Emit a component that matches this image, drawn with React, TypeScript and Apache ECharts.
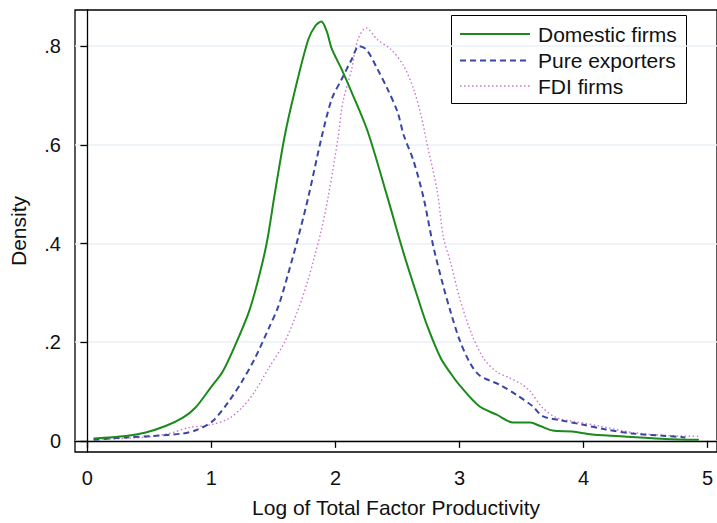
import React, { useEffect, useRef } from "react";
import * as echarts from "echarts";

const seriesNames = ["Domestic firms", "Pure exporters", "FDI firms"];
const xTicks = [0, 1, 2, 3, 4, 5];
const yTicks = [0, 0.2, 0.4, 0.6, 0.8];
const xTitle = "Log of Total Factor Productivity";
const yTitle = "Density";

const domestic: number[][] = [
  [0.05, 0.005], [0.31, 0.01], [0.47, 0.017], [0.63, 0.03], [0.77, 0.047], [0.87, 0.067],
  [1.0, 0.11], [1.09, 0.14], [1.19, 0.193], [1.3, 0.26], [1.37, 0.32], [1.445, 0.4],
  [1.51, 0.5], [1.59, 0.617], [1.67, 0.707], [1.78, 0.813], [1.84, 0.842], [1.886, 0.85],
  [1.93, 0.83], [1.97, 0.795], [2.05, 0.753], [2.13, 0.707], [2.26, 0.627], [2.42, 0.493],
  [2.55, 0.38], [2.66, 0.293], [2.74, 0.233], [2.85, 0.167], [2.94, 0.133], [3.0, 0.113],
  [3.16, 0.07], [3.3, 0.053], [3.43, 0.037], [3.57, 0.037], [3.65, 0.03], [3.75, 0.021],
  [3.91, 0.019], [4.07, 0.013], [4.39, 0.008], [4.66, 0.004], [4.93, 0.002],
];

const pureExporters: number[][] = [
  [0.05, 0.002], [0.31, 0.007], [0.53, 0.01], [0.77, 0.015], [0.88, 0.022], [1.01, 0.04],
  [1.14, 0.08], [1.245, 0.12], [1.35, 0.167], [1.46, 0.227], [1.54, 0.273], [1.62, 0.34],
  [1.7, 0.413], [1.78, 0.493], [1.886, 0.613], [1.97, 0.693], [2.05, 0.733], [2.13, 0.773],
  [2.19, 0.8], [2.25, 0.793], [2.34, 0.753], [2.42, 0.713], [2.5, 0.667], [2.55, 0.62],
  [2.63, 0.567], [2.71, 0.493], [2.79, 0.393], [2.87, 0.313], [2.93, 0.26], [3.0, 0.205],
  [3.08, 0.16], [3.16, 0.133], [3.33, 0.113], [3.46, 0.093], [3.59, 0.07], [3.67, 0.05],
  [3.81, 0.042], [3.99, 0.033], [4.18, 0.023], [4.39, 0.015], [4.66, 0.01], [4.82, 0.007],
];

const fdiFirms: number[][] = [
  [0.05, 0.003], [0.45, 0.007], [0.66, 0.015], [0.82, 0.027], [1.0, 0.033], [1.14, 0.045],
  [1.245, 0.067], [1.35, 0.1], [1.46, 0.147], [1.59, 0.2], [1.7, 0.267], [1.78, 0.327],
  [1.83, 0.373], [1.886, 0.427], [1.94, 0.493], [2.02, 0.613], [2.06, 0.687], [2.13, 0.753],
  [2.18, 0.813], [2.246, 0.837], [2.34, 0.813], [2.45, 0.793], [2.55, 0.76], [2.63, 0.713],
  [2.69, 0.66], [2.74, 0.6], [2.82, 0.507], [2.87, 0.413], [2.93, 0.36], [3.0, 0.29],
  [3.1, 0.215], [3.2, 0.165], [3.3, 0.14], [3.4, 0.128], [3.5, 0.115], [3.57, 0.1],
  [3.67, 0.067], [3.78, 0.047], [3.91, 0.04], [4.13, 0.03], [4.39, 0.017], [4.66, 0.011],
  [4.93, 0.009],
];

const seriesData = [domestic, pureExporters, fdiFirms];
const colors = ["#1b8a1b", "#3a46a6", "#c878c8"];
const widths = [2, 2, 1.4];
const dashes: any[] = ["solid", [6, 4], [1.5, 2.5]];

const FONT = "'Liberation Sans', Arial, Helvetica, sans-serif";
const TXT = "#111";

export default function App() {
  const ref = useRef<HTMLDivElement>(null);
  useEffect(() => {
    const chart = echarts.init(ref.current!, null, { renderer: "svg" });
    const legendTop = 15.5;
    const rowY = [34, 60.5, 86];
    const legendChildren: any[] = [
      {
        type: "rect",
        shape: { x: 451.5, y: legendTop, width: 235, height: 88 },
        style: { fill: "#fff", stroke: "#000", lineWidth: 1 },
      },
    ];
    seriesNames.forEach((n, i) => {
      legendChildren.push({
        type: "line",
        shape: { x1: 460, y1: rowY[i], x2: 530, y2: rowY[i] },
        style: {
          stroke: colors[i],
          lineWidth: widths[i],
          lineDash: dashes[i] === "solid" ? null : dashes[i],
        },
      });
      legendChildren.push({
        type: "text",
        x: 538,
        y: rowY[i],
        style: {
          text: n,
          fill: TXT,
          fontSize: 21,
          fontFamily: FONT,
          textVerticalAlign: "middle",
          verticalAlign: "middle",
          textAlign: "left",
          align: "left",
        },
      });
    });

    chart.setOption({
      animation: false,
      backgroundColor: "#fff",
      grid: {
        left: 72,
        top: 10,
        right: -2,
        bottom: 65,
        show: true,
        borderColor: "#000",
        borderWidth: 1.3,
        backgroundColor: "transparent",
        containLabel: false,
      },
      xAxis: {
        type: "value",
        min: -0.1,
        max: 5.076,
        name: xTitle,
        nameLocation: "middle",
        nameGap: 45,
        nameTextStyle: { fontSize: 21, fontFamily: FONT, color: TXT },
        axisLine: { show: true, lineStyle: { color: "#000", width: 1.3 } },
        axisTick: { show: true, length: 7, customValues: xTicks, lineStyle: { color: "#000", width: 1.3 } },
        axisLabel: {
          customValues: xTicks,
          margin: 16,
          fontSize: 20,
          fontFamily: FONT,
          color: TXT,
          formatter: (v: number) => String(Math.round(v)),
        },
        splitLine: { show: false },
      },
      yAxis: {
        type: "value",
        min: -0.0226,
        max: 0.8734,
        name: yTitle,
        nameLocation: "middle",
        nameGap: 46,
        nameRotate: 90,
        nameTextStyle: { fontSize: 21, fontFamily: FONT, color: TXT },
        axisLine: { show: true, lineStyle: { color: "#000", width: 1.3 } },
        axisTick: { show: true, length: 7, customValues: yTicks, lineStyle: { color: "#000", width: 1.3 } },
        axisLabel: {
          customValues: yTicks,
          margin: 14,
          fontSize: 20,
          fontFamily: FONT,
          color: TXT,
          formatter: (v: number) => (Math.abs(v) < 1e-9 ? "0" : v.toFixed(1).replace(/^0/, "")),
        },
        splitLine: { show: true, lineStyle: { color: "#e9f0f4", width: 1.5 } },
      },
      series: seriesNames.map((n, i) => ({
        name: n,
        type: "line",
        data: seriesData[i],
        showSymbol: false,
        symbol: "none",
        smooth: 0.3,
        z: 3 + (2 - i),
        lineStyle: { color: colors[i], width: widths[i], type: dashes[i] },
      })),
      graphic: [{ type: "group", children: legendChildren, z: 100 }],
    });
    return () => chart.dispose();
  }, []);
  return (
    <div
      ref={ref}
      style={{ position: "absolute", left: 0, top: 0, width: 717, height: 523 }}
    />
  );
}
